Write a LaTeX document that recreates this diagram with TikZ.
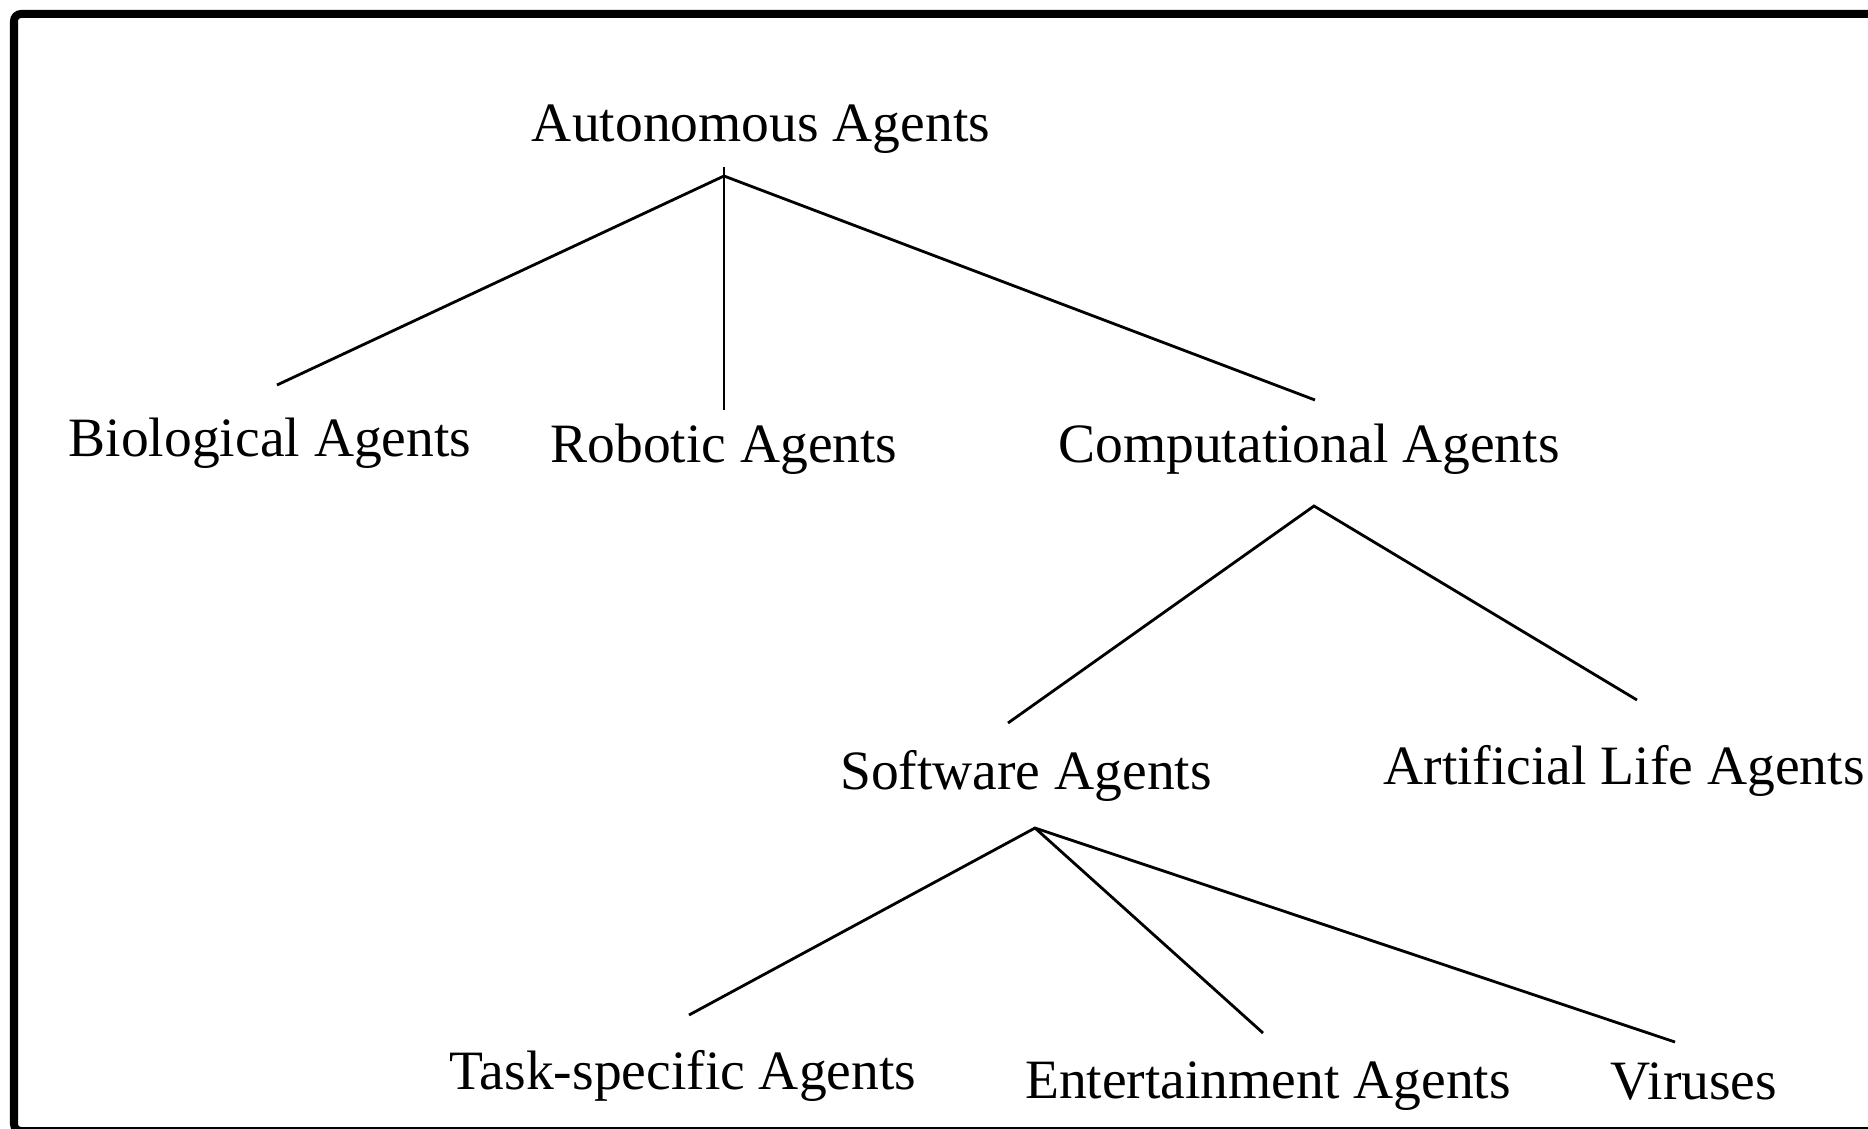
\documentclass[tikz,border=0pt]{standalone}
\usepackage{fontspec}
\setmainfont{Liberation Serif}
\usetikzlibrary{positioning}

\begin{document}
\begin{tikzpicture}[line width=0.8pt]

% Sizes
\def\picw{18.68}
\def\pich{11.29}

\tikzset{
  agent/.style={anchor=base, inner sep=0pt, font=\fontsize{15.8}{19}\selectfont},
  branch/.style={line width=0.8pt}
}

\useasboundingbox (0,0) rectangle (\picw,-\pich);

% Frame (runs off the right and bottom edges)
\draw[line width=0.08cm, rounded corners=2pt] (0.14,-0.14) rectangle (18.82,-11.31);

% Agent names
\foreach \name/\x/\y/\text in {
root/7.61/-1.42/Autonomous Agents,
bio/2.70/-4.56/Biological Agents,
rob/7.24/-4.62/Robotic Agents,
comp/13.09/-4.62/Computational Agents,
soft/10.26/-7.89/Software Agents,
alife/16.24/-7.84/Artificial Life Agents,
task/6.83/-10.89/Task-specific Agents,
ent/12.68/-10.98/Entertainment Agents,
vir/16.94/-10.99/Viruses
} {
  \node[agent] (\name) at (\x,\y) {\text};
}

% Branch points and free ends
\coordinate (root-tip) at (7.24,-1.76);
\coordinate (root-top) at (7.24,-1.67);
\coordinate (bio-end) at (2.77,-3.85);
\coordinate (rob-end) at (7.24,-4.10);
\coordinate (comp-end) at (13.15,-4.00);
\coordinate (comp-tip) at (13.14,-5.06);
\coordinate (soft-end) at (10.08,-7.23);
\coordinate (alife-end) at (16.37,-7.00);
\coordinate (soft-tip) at (10.35,-8.28);
\coordinate (task-end) at (6.89,-10.15);
\coordinate (ent-end) at (12.63,-10.33);
\coordinate (vir-end) at (16.75,-10.42);

% Tree
\draw[branch] (bio-end) -- (root-tip) -- (comp-end);
\draw[branch] (root-top) -- (rob-end);
\draw[branch] (soft-end) -- (comp-tip) -- (alife-end);
\draw[branch] (task-end) -- (soft-tip) -- (vir-end);
\draw[branch] (soft-tip) -- (ent-end);

\end{tikzpicture}
\end{document}
